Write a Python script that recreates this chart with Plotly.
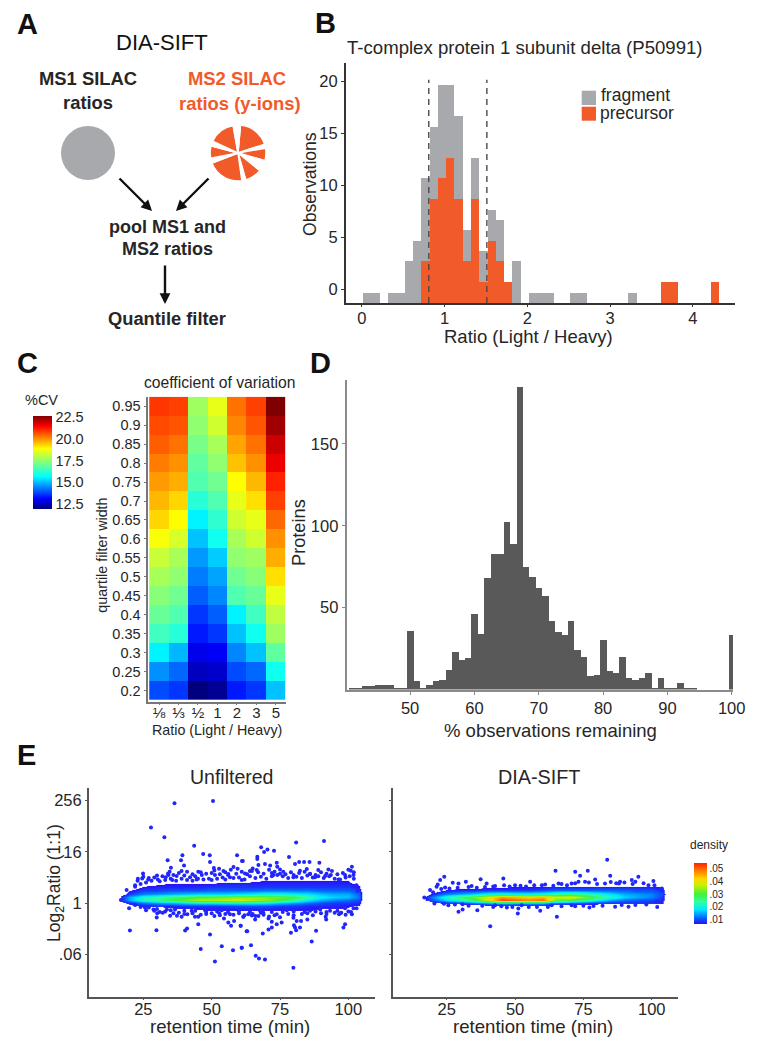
import plotly.graph_objects as go

W, H = 758, 1050
FONT = "Liberation Sans"
ORANGE = "#f15a29"
GREY = "#a7a9ac"
TXT = "#262626"

# ---------- Panel A
ms1_slice = [1]
ms2_slices = [67, 8, 26, 23, 35, 8, 77, 10, 26, 10, 55, 15]
ms2_colors = [ORANGE if i % 2 == 0 else "#ffffff" for i in range(len(ms2_slices))]

# ---------- Panel B
ratio_bins = [0.07 + 0.1 * i for i in range(43)]
fragment_counts = [1, 1, 0, 1, 1, 4, 6, 12, 17, 21, 21, 18, 7, 14, 5, 9, 8, 0, 4, 0, 1, 1, 1, 0, 0, 1, 1, 0, 0, 0, 0, 0, 1, 0, 0, 0, 0, 0, 0, 0, 0, 0, 0]
precursor_counts = [0, 0, 0, 0, 0, 0, 0, 4, 10, 12, 14, 10, 4, 10, 2, 6, 4, 2, 0, 0, 0, 0, 0, 0, 0, 0, 0, 0, 0, 0, 0, 0, 0, 0, 0, 0, 2, 2, 0, 0, 0, 0, 2]
quantile_bounds = [0.81, 1.512]
obs_tick_labels = [0, 5, 10, 15, 20]
obs_tick_pos = [1.32, 6.32, 11.32, 16.32, 21.32]

# ---------- Panel C
ratio_labels = ["⅛", "⅓", "½", "1", "2", "3", "5"]
width_labels = ["0.95", "0.9", "0.85", "0.8", "0.75", "0.7", "0.65", "0.6", "0.55", "0.5", "0.45", "0.4", "0.35", "0.3", "0.25", "0.2"]
cv_eighth = [20.9, 20.7, 20.5, 20.2, 19.9, 19.6, 19.3, 18.8, 18.2, 17.8, 17.4, 17.0, 16.5, 15.6, 14.6, 13.9]
cv_third = [20.8, 20.6, 20.3, 20.0, 19.7, 19.3, 18.9, 18.4, 17.8, 17.5, 17.1, 16.7, 16.2, 15.0, 14.2, 13.7]
cv_half = [17.7, 17.5, 17.2, 16.9, 16.7, 16.2, 15.6, 15.1, 14.7, 14.4, 14.1, 13.7, 13.4, 13.0, 12.6, 12.0]
cv_one = [18.6, 18.3, 17.8, 17.5, 17.1, 16.7, 16.3, 15.9, 15.2, 14.8, 14.5, 14.1, 13.7, 13.1, 12.7, 12.2]
cv_two = [20.3, 20.1, 19.8, 19.5, 18.9, 18.6, 18.3, 17.8, 17.5, 17.1, 16.7, 15.6, 15.1, 14.5, 13.9, 13.4]
cv_three = [20.8, 20.6, 20.3, 20.0, 19.6, 19.2, 18.6, 18.3, 17.7, 17.4, 17.0, 16.5, 15.9, 15.1, 14.2, 13.7]
cv_five = [22.6, 22.3, 21.9, 21.6, 21.1, 20.8, 20.4, 20.0, 19.7, 19.2, 18.6, 18.1, 17.7, 16.9, 15.9, 15.1]

# ---------- Panel D
pct_bins = list(range(41, 101))
protein_counts = [1, 0.5, 2, 2, 3, 3, 3, 1, 0.5, 36, 5, 1, 3, 5, 6, 12, 23, 18, 19, 46, 34, 68, 83, 83, 102, 89, 185, 75, 69, 62, 57, 42, 35, 33, 42, 24, 20, 8, 9, 30, 11, 10, 20, 7, 5.5, 7, 10, 1, 7, 0.5, 1, 4, 0.5, 1, 0, 0, 0, 0, 0, 33]

# ---------- Panel E
rt_grid = [15, 17, 20, 25, 30, 35, 40, 45, 50, 55, 60, 65, 70, 75, 80, 85, 90, 95, 100, 104, 106]
log2_grid_all = [-0.75, -0.5, -0.25, 0, 0.25, 0.5, 0.75, 1.0, 1.25, 1.5, 1.75, 2.0]
dens_unf_m075 = [0] * 21
dens_unf_m050 = [0, 0, 0, 0, 0, 5, 5, 6, 7, 7, 7, 7, 7, 7, 7, 7, 6, 6, 6, 0, 0]
dens_unf_m025 = [0, 0, 5, 7, 8, 8, 9, 9, 9, 9, 10, 10, 10, 9, 9, 8, 8, 8, 7, 6, 0]
dens_unf_000 = [0, 5, 8, 12, 14, 15, 17, 18, 18, 19, 19, 19, 18, 16, 14, 12, 10, 9, 9, 8, 0]
dens_unf_025 = [0, 8, 15, 22, 25, 29, 32, 36, 36, 37, 39, 36, 34, 30, 25, 19, 15, 13, 12, 10, 0]
dens_unf_050 = [0, 8, 15, 21, 23, 26, 28, 30, 31, 32, 33, 34, 33, 32, 30, 24, 19, 17, 16, 12, 0]
dens_unf_075 = [0, 4, 9, 13, 14, 15, 16, 17, 17, 17, 18, 19, 20, 20, 19, 18, 16, 15, 15, 11, 0]
dens_unf_100 = [0, 0, 6, 9, 9, 10, 10, 10, 11, 11, 11, 11, 12, 12, 12, 12, 11, 11, 11, 9, 0]
dens_unf_125 = [0, 0, 3, 7, 8, 8, 8, 8, 9, 9, 9, 9, 9, 9, 9, 9, 9, 9, 9, 7, 0]
dens_unf_150 = [0, 0, 0, 5, 6, 7, 7, 7, 7, 8, 8, 8, 8, 8, 8, 8, 8, 8, 8, 6, 0]
dens_unf_175 = [0, 0, 0, 0, 0, 0, 0, 0, 5, 5, 5, 6, 7, 7, 7, 7, 7, 7, 7, 0, 0]
dens_unf_200 = [0] * 21

dens_sift_m075 = [0] * 21
dens_sift_m050 = [0] * 21
dens_sift_m025 = [0, 0, 0, 0, 0, 2, 3, 4, 4, 4, 4, 3, 2, 2, 2, 0, 0, 0, 0, 0, 0]
dens_sift_000 = [0, 0, 5, 8, 10, 12, 15, 18, 17, 17, 17, 12, 11, 10, 9, 8, 8, 8, 8, 7, 0]
dens_sift_025 = [0, 6, 11, 18, 22, 28, 38, 52, 50, 48, 50, 32, 30, 25, 20, 15, 12, 11, 10, 8, 0]
dens_sift_050 = [0, 7, 13, 22, 27, 32, 40, 46, 44, 42, 44, 38, 40, 34, 28, 22, 17, 15, 13, 9, 0]
dens_sift_075 = [0, 3, 8, 13, 15, 17, 20, 21, 20, 20, 21, 24, 26, 24, 21, 18, 15, 14, 13, 10, 0]
dens_sift_100 = [0, 0, 3, 7, 8, 8, 9, 9, 9, 9, 10, 11, 11, 11, 11, 11, 11, 10, 10, 8, 0]
dens_sift_125 = [0, 0, 0, 4, 5, 5, 6, 6, 7, 7, 7, 8, 8, 8, 8, 8, 8, 8, 8, 6, 0]
dens_sift_150 = [0] * 21
dens_sift_175 = [0] * 21
dens_sift_200 = [0] * 21

unf_t = [36.4, 50.5, 27.8, 32.7, 43.6, 46.9, 49.3, 39.3, 33.9, 38.8, 49.4, 59.3, 61.1, 39.9, 35.1, 34.6, 24.9, 50.8, 52.7, 58, 56.1, 54.3, 59.5, 64, 45.1, 39, 34.2, 33.2, 37.2, 42.1, 46.4, 51.2, 56.7, 22.9, 24.6, 26.8, 30.3, 22, 18.9, 35.6, 44.5, 50, 61,
         16.8, 19.8, 20.1, 29.8, 40.3, 41, 45.1, 49.4, 46, 53.7, 57.8, 61, 51.2, 63, 60.6, 56.1, 58.2, 57.1, 29.9, 28.7, 30.1, 32.1, 34.8, 37.3, 39, 41.1, 43.9, 45.1, 51, 52.8, 54.5, 56.7, 61.6, 25.6, 33.6, 36.6, 42.7, 47.6, 53.7, 59.8, 63.4,
         80.9, 91.1, 68.1, 70.4, 69.2, 72.8, 66.7, 66.7, 61.4, 78.3, 82, 83.8, 85.8, 89.4, 80.5, 73.8, 69.5, 67.1, 71.4, 74, 75, 76.2, 101.3, 100.9, 92.7, 89, 84.8, 82.3, 64.7, 66.5, 62.2, 86, 98.8, 91.5, 93.6, 101.9, 72.6, 79.9, 96.4, 87.8, 103.4,
         60.6, 61.6, 64.7, 65.9, 67.1, 68.9, 70.8, 72, 73.8, 75.6, 72, 70.8, 68.7, 62.8, 79.9, 81.1, 82.7, 80.1, 80.5, 82.3, 80.9, 79, 85, 88.2, 86.6, 64.4, 61, 66.1, 67.3, 69.5, 79.9, 98.8, 98.2, 91.7, 91.9, 96.6, 97.4, 101.3, 77.5, 86, 89.7, 93.3, 98.8, 101.9, 73.8, 67.7,
         22, 24, 26, 28, 31, 33, 35, 37, 39, 41, 43, 45, 47, 49, 52, 54, 55, 58, 60, 62, 64, 66, 68, 70, 72, 74, 76, 78, 81, 83, 85, 87, 89, 91, 93, 95, 97, 99, 100.5, 102, 103,
         22, 24, 27, 30, 35, 40, 44, 48, 52, 56, 60, 64, 68, 72, 76, 80, 84, 88, 92, 96, 100, 103,
         23, 25, 27, 29, 30, 32, 34, 36, 38, 40, 41, 43, 44, 46, 48, 50, 51, 53, 55, 56, 57, 59, 61, 63, 65, 67, 69, 71, 72, 73, 75, 77, 79, 80, 82, 84, 86, 88, 90, 92, 94, 96, 98, 100, 102,
         26, 29, 31, 33, 36, 38, 40, 43, 46, 48, 50, 53, 55, 58, 60, 62, 65, 66, 69, 71, 73, 75, 78, 80, 83, 85, 87, 90, 92, 95, 97, 99, 101]
unf_y = [7.79, 7.97, 5.89, 5.13, 4.48, 3.83, 3.73, 3.73, 3.34, 3.34, 3.2, 3.73, 3.28, 2.94, 2.76, 2.45, 2.32, 2.74, 2.68, 2.81, 2.27, 2.5, 2.68, 2.5, 2.45, 2.5, 2.19, 2.01, 2.11, 2.01, 2.19, 2.19, 2.01, 1.75, 1.93, 1.85, 1.85, 1.28, 1.02, 1.8, 1.85, 1.8, 1.8,
         0.24, -0.41, -2.13, -2.11, -2.13, -1.98, -1.64, -2.45, -3.57, -3.36, -3.67, -3.49, -4.55, -2.19, -1.77, -1.51, -1.4, -1.77, -1.12, -0.49, -0.8, -0.75, -0.99, -0.99, -1.07, -0.86, -1.07, -1.07, -1.01, -0.8, -1.2, -0.86, -1.07, -0.34, -0.49, -0.49, -0.6, -0.55, -0.55, -0.55, -0.86,
         4.72, 4.85, 4.35, 4.19, 3.99, 4.09, 3.62, 3.44, 3.28, 3.6, 3.2, 3.2, 3.2, 3.15, 3.05, 3.15, 3.05, 2.97, 2.94, 2.84, 2.63, 2.45, 2.84, 2.53, 2.63, 2.58, 2.66, 2.53, 2.5, 2.58, 2.32, 2.27, 2.19, 2.11, 2.19, 2.19, 2.19, 2.01, 1.85, 2.01, 0.97,
         -1.77, -1.07, -0.96, -1.27, -1.01, -0.75, -1.2, -1.46, -1.64, -1.51, -1.9, -2.05, -2.37, -2.19, -1.14, -1.4, -1.4, -1.72, -1.9, -1.9, -2.11, -2.31, -1.27, -2.16, -2.99, -3.28, -3.49, -4.11, -4.32, -4.4, -5.05, -1.64, -1.9, -1.07, -1.27, -0.86, -0.75, -0.86, -0.55, -0.6, -0.49, -0.6, -0.41, -0.41, -0.86, -0.6,
         1.4, 1.5, 1.6, 1.75, 1.7, 1.8, 1.9, 1.75, 1.9, 1.8, 1.75, 1.9, 1.85, 1.9, 1.9, 2.0, 1.85, 1.95, 2.0, 1.85, 2.1, 1.95, 2.05, 1.9, 2.1, 2.2, 2.1, 1.95, 2.05, 1.95, 2.15, 2.0, 2.1, 1.95, 2.1, 1.9, 1.85, 2.0, 2.1, 1.9, 1.4,
         -0.15, -0.3, -0.35, -0.45, -0.55, -0.6, -0.6, -0.7, -0.65, -0.7, -0.6, -0.7, -0.75, -0.7, -0.7, -0.65, -0.7, -0.65, -0.7, -0.6, -0.65, -0.4,
         1.9, 2.05, 1.95, 2.0, 2.15, 2.1, 2.3, 2.2, 2.35, 2.15, 2.45, 2.25, 2.1, 2.4, 2.3, 2.35, 2.55, 2.25, 2.4, 2.2, 2.6, 2.3, 2.45, 2.25, 2.7, 2.4, 2.3, 2.6, 2.35, 2.45, 2.3, 2.25, 2.4, 2.2, 2.35, 2.45, 2.3, 2.2, 2.4, 2.3, 2.5, 2.25, 2.35, 2.6, 2.4,
         -0.55, -0.6, -0.7, -0.65, -0.8, -0.75, -0.85, -0.8, -0.9, -0.85, -0.8, -0.95, -0.85, -0.9, -0.8, -0.95, -0.85, -1.0, -0.9, -1.05, -0.95, -1.1, -0.85, -0.95, -0.85, -0.8, -0.95, -0.8, -0.85, -0.75, -0.8, -0.9, -0.7]

sift_t = [83.7, 64.8, 72, 76.6, 73.8, 84.8, 24.1, 22.6, 37.4, 45.7, 21.7, 29.3, 32, 27.2, 21.3, 39.6, 55.5, 95.1, 92.7, 88.4, 79.3, 73.2, 100.6, 18.9, 16.8,
          20.5, 25.6, 30.8, 29.3, 30.8, 36.2, 47, 51.2, 51, 59.2, 65.3, 40.9, 52.4, 70.7, 77.2, 78.7, 86.6, 91.5, 101.8, 42.7, 63.4,
          24.4, 34.1, 42.7, 50, 59.8, 65.9, 70.7, 75.6, 82.9, 88, 94, 98.8, 103.7,
          20, 23, 26, 29, 33, 36, 39, 42, 46, 48, 52, 54, 57, 61, 64, 67, 69, 72, 77, 80, 85, 87, 90, 93, 97, 101, 103,
          24, 28, 33, 38, 42, 45, 49, 55, 58, 62, 67, 72, 75, 82, 89, 94, 98, 102]
sift_y = [3.38, 2.53, 2.45, 2.53, 2.13, 2.13, 2.06, 1.8, 1.87, 1.93, 1.46, 1.54, 1.67, 1.59, 1.28, 1.54, 1.67, 2.06, 1.8, 1.67, 1.85, 1.67, 1.72, 1.02, 0.44,
          -0.03, -0.16, -0.08, -0.68, -0.5, -0.55, -0.34, -0.42, -0.81, -0.6, -1.07, -1.8, -0.16, -0.16, -0.34, -0.23, -0.29, -0.29, 0.1, -0.16, -0.16,
          1.22, 1.33, 1.33, 1.4, 1.4, 1.54, 1.54, 1.67, 1.54, 1.54, 1.67, 1.4, 1.15,
          0.85, 1.1, 1.15, 1.2, 1.25, 1.2, 1.25, 1.3, 1.4, 1.3, 1.35, 1.3, 1.4, 1.45, 1.35, 1.5, 1.4, 1.55, 1.6, 1.5, 1.65, 1.55, 1.6, 1.5, 1.55, 1.4, 1.1,
          -0.05, -0.1, -0.2, -0.2, -0.3, -0.25, -0.3, -0.3, -0.3, -0.3, -0.25, -0.25, -0.2, -0.2, -0.15, -0.15, -0.1, -0.3]
outlier_density = 8
density_ticks = [10, 20, 30, 40, 50]
density_labels = [".01", ".02", ".03", ".04", ".05"]


def px(x): return x / W
def py(y): return 1 - y / H


def dom_x(a, b): return [px(a), px(b)]
def dom_y(top, bottom): return [py(bottom), py(top)]


fig = go.Figure()

# Panel A pies
fig.add_trace(go.Pie(values=ms1_slice, marker=dict(colors=[GREY], line=dict(width=0)), textinfo="none", hoverinfo="skip",
                     showlegend=False, domain=dict(x=dom_x(61, 115), y=dom_y(126, 180)), sort=False))
fig.add_trace(go.Pie(values=ms2_slices, marker=dict(colors=ms2_colors, line=dict(width=1.5, color="#ffffff")), textinfo="none", hoverinfo="skip",
                     showlegend=False, rotation=5, direction="clockwise", sort=False,
                     domain=dict(x=dom_x(210, 266), y=dom_y(125, 181))))

# Panel B
fig.add_trace(go.Bar(x=ratio_bins, y=fragment_counts, width=0.1, marker=dict(color=GREY, line=dict(width=0)), xaxis="x", yaxis="y", showlegend=False))
fig.add_trace(go.Bar(x=ratio_bins, y=precursor_counts, width=0.1, marker=dict(color=ORANGE, line=dict(width=0)), xaxis="x", yaxis="y", showlegend=False))
for b in quantile_bounds:
    fig.add_trace(go.Scatter(x=[b, b], y=[0, 21.5], mode="lines", line=dict(color="#4a4a4a", width=1.4, dash="6px,5px"),
                             xaxis="x", yaxis="y", showlegend=False, hoverinfo="skip"))

# Panel C
jet = [[0, "#00007f"], [0.11, "#0000ff"], [0.23, "#0080ff"], [0.35, "#00ffff"], [0.5, "#80ff80"], [0.65, "#ffff00"], [0.77, "#ff8000"], [0.89, "#ff0000"], [1, "#7f0000"]]
z_cv = [list(row) for row in zip(cv_eighth, cv_third, cv_half, cv_one, cv_two, cv_three, cv_five)][::-1]
fig.add_trace(go.Heatmap(z=z_cv, x=ratio_labels, y=width_labels[::-1], colorscale=jet, zmin=12, zmax=22.6, xaxis="x2", yaxis="y2",
                         colorbar=dict(x=px(33), xanchor="left", xpad=0, ypad=0, y=py(415.7), yanchor="top", len=93.3 / H, lenmode="fraction",
                                       thickness=19, thicknessmode="pixels", tickvals=[12.5, 15, 17.5, 20, 22.5], ticktext=["12.5", "15.0", "17.5", "20.0", "22.5"],
                                       ticks="", outlinewidth=0, tickfont=dict(size=14.5, color=TXT, family=FONT))))

# Panel D
fig.add_trace(go.Bar(x=pct_bins, y=protein_counts, width=1, marker=dict(color="#595959", line=dict(width=0)), xaxis="x3", yaxis="y3", showlegend=False))

# Panel E
TOP = 54.5
density_stops = [(6.6, "#2c0cf8"), (12, "#0070ff"), (18, "#00e8ff"), (24, "#30ffa0"), (30, "#40f040"), (37, "#c8f000"), (42, "#ffd800"), (47, "#ff9000"), (54.5, "#ff2000")]
heat_scale = [[0, "rgba(255,255,255,0)"], [6.5 / TOP, "rgba(255,255,255,0)"]] + [[v / TOP, c] for v, c in density_stops]
point_scale = [[(v - 6.6) / (TOP - 6.6), c] for v, c in density_stops]
z_unf = [dens_unf_m075, dens_unf_m050, dens_unf_m025, dens_unf_000, dens_unf_025, dens_unf_050, dens_unf_075, dens_unf_100, dens_unf_125, dens_unf_150, dens_unf_175, dens_unf_200]
z_sift = [dens_sift_m075, dens_sift_m050, dens_sift_m025, dens_sift_000, dens_sift_025, dens_sift_050, dens_sift_075, dens_sift_100, dens_sift_125, dens_sift_150, dens_sift_175, dens_sift_200]

fig.add_trace(go.Scatter(x=unf_t, y=unf_y, mode="markers", marker=dict(size=4, color=[outlier_density] * len(unf_t), colorscale=point_scale, cmin=6.6, cmax=TOP, line=dict(width=0)),
                         xaxis="x4", yaxis="y4", showlegend=False))
fig.add_trace(go.Heatmap(z=z_unf, x=rt_grid, y=log2_grid_all, colorscale=heat_scale, zmin=0, zmax=TOP, zsmooth="best", showscale=False, xaxis="x4", yaxis="y4"))
fig.add_trace(go.Scatter(x=sift_t, y=sift_y, mode="markers",
                         marker=dict(size=4, color=[outlier_density] * len(sift_t), colorscale=point_scale, cmin=6.6, cmax=TOP, line=dict(width=0), showscale=True,
                                     colorbar=dict(x=px(694), xanchor="left", xpad=0, ypad=0, y=py(863), yanchor="top", len=61 / H, lenmode="fraction",
                                                   thickness=13, thicknessmode="pixels", tickvals=density_ticks, ticktext=density_labels, ticks="", outlinewidth=0,
                                                   tickfont=dict(size=10, color=TXT, family=FONT))),
                         xaxis="x5", yaxis="y5", showlegend=False))
fig.add_trace(go.Heatmap(z=z_sift, x=rt_grid, y=log2_grid_all, colorscale=heat_scale, zmin=0, zmax=TOP, zsmooth="best", showscale=False, xaxis="x5", yaxis="y5"))


def ax(domain, rng, color="#333333", lw=2, ticklen=3, size=16.5, **kw):
    return dict(domain=domain, range=rng, showgrid=False, zeroline=False, showline=True, linecolor=color, linewidth=lw,
                ticks="outside", ticklen=ticklen, tickcolor=color, tickwidth=1, tickfont=dict(size=size, color=TXT, family=FONT), **kw)


layout_axes = dict(
    xaxis=ax(dom_x(346, 735), [-0.19, 4.51], tickvals=[0, 1, 2, 3, 4], anchor="y", ticklen=2, ticklabelstandoff=-3),
    yaxis=ax(dom_y(63, 303), [0, 23.12], tickvals=obs_tick_pos, ticktext=[str(v) for v in obs_tick_labels], anchor="x"),
    xaxis2=ax(dom_x(147.5, 285.7), [-0.59, 6.5], color="#777777", size=15, type="category", categoryorder="array", categoryarray=ratio_labels, anchor="y2", ticklen=1, ticklabelstandoff=-5),
    yaxis2=ax(dom_y(396.7, 702), [-0.6, 15.5], color="#777777", size=14.5, type="category", categoryorder="array", categoryarray=width_labels[::-1], anchor="x2", ticklen=2),
    xaxis3=ax(dom_x(346.7, 733), [40.15, 100.2], color="#8a8a8a", tickvals=[50, 60, 70, 80, 90, 100], anchor="y3"),
    yaxis3=ax(dom_y(380, 689.5), [0, 189], color="#8a8a8a", tickvals=[50, 100, 150], anchor="x3"),
    xaxis4=ax(dom_x(89, 375), [5.13, 109.75], color="#555555", tickvals=[25, 50, 75, 100], anchor="y4", ticklen=1, ticklabelstandoff=-5),
    yaxis4=ax(dom_y(788, 996.7), [-7.3, 8.98], color="#555555", tickvals=[8, 4, 0, -4], ticktext=["256", "16", "1", ".06"], anchor="x4", ticklen=2),
    xaxis5=ax(dom_x(392.7, 678), [5.24, 109.6], color="#555555", tickvals=[25, 50, 75, 100], anchor="y5", ticklen=1, ticklabelstandoff=-5),
    yaxis5=ax(dom_y(788, 996.7), [-7.3, 8.98], color="#555555", tickvals=[8, 4, 0, -4], showticklabels=False, anchor="x5", ticklen=2),
)


def note(text, x, y, size, color=TXT, bold=False, angle=0):
    return dict(text=f"<b>{text}</b>" if bold else text, x=px(x), y=py(y), xref="paper", yref="paper", showarrow=False,
                xanchor="center", yanchor="middle", textangle=angle, font=dict(size=size, color=color, family=FONT))


notes = [
    note("A", 27.5, 24, 29, "#111111", True), note("B", 325, 23, 29, "#111111", True), note("C", 27, 363, 29, "#111111", True),
    note("D", 320, 363, 29, "#111111", True), note("E", 26, 755, 29, "#111111", True),
    note("DIA-SIFT", 162, 42, 22, "#111111"), note("MS1 SILAC", 88, 79, 18.4, bold=True), note("ratios", 88, 102, 18.4, bold=True),
    note("MS2 SILAC", 237, 79, 18.4, ORANGE, True), note("ratios (y-ions)", 240, 103, 18.4, ORANGE, True),
    note("pool MS1 and", 167, 227, 18, bold=True), note("MS2 ratios", 167, 249, 18, bold=True), note("Quantile filter", 167, 318, 18.3, bold=True),
    note("T-complex protein 1 subunit delta (P50991)", 525, 48, 18.6), note("Ratio (Light / Heavy)", 528, 337, 18.5), note("Observations", 310, 184, 17.6, angle=-90),
    note("fragment", 635, 95, 17.5), note("precursor", 637, 113, 17.5),
    note("coefficient of variation", 219.5, 382.7, 15.7), note("%CV", 41, 400, 14.5), note("quartile filter width", 101.7, 555, 14.3, angle=-90),
    note("Ratio (Light / Heavy)", 217, 730, 14.3),
    note("% observations remaining", 550, 730, 18.5), note("Proteins", 299, 533, 18.2, angle=-90),
    note("Unfiltered", 231, 777, 19.5), note("DIA-SIFT", 539, 777, 19.8), note("retention time (min)", 230, 1026, 18.6), note("retention time (min)", 533, 1026, 18.6),
    note("Log<sub>2</sub>Ratio (1:1)", 55, 883, 17.5, angle=-90), note("density", 709, 845, 12),
]


def arrow(x0, y0, x1, y1):
    return dict(x=px(x1), y=py(y1), xref="paper", yref="paper", ax=x0 - x1, ay=y0 - y1, axref="pixel", ayref="pixel", text="", showarrow=True,
                arrowhead=2, arrowsize=0.9, arrowwidth=2.4, arrowcolor="#111111")


notes += [arrow(118, 177, 152, 211), arrow(210, 177, 176, 211), arrow(165, 264, 165, 304)]

legend_boxes = [
    dict(type="rect", xref="paper", yref="paper", x0=px(581.7), x1=px(596), y0=py(105), y1=py(90.7), fillcolor=GREY, line=dict(width=0)),
    dict(type="rect", xref="paper", yref="paper", x0=px(581.7), x1=px(596), y0=py(120.7), y1=py(106.7), fillcolor=ORANGE, line=dict(width=0)),
]

fig.update_layout(width=W, height=H, autosize=False, margin=dict(l=0, r=0, t=0, b=0, autoexpand=False), paper_bgcolor="white", plot_bgcolor="rgba(0,0,0,0)",
                  barmode="overlay", bargap=0, font=dict(family=FONT, color=TXT), annotations=notes, shapes=legend_boxes, showlegend=False, **layout_axes)
fig.write_html("out.html", config={"responsive": False, "displayModeBar": False},
               post_script="document.body.style.margin='0';document.documentElement.style.overflow='hidden';")
